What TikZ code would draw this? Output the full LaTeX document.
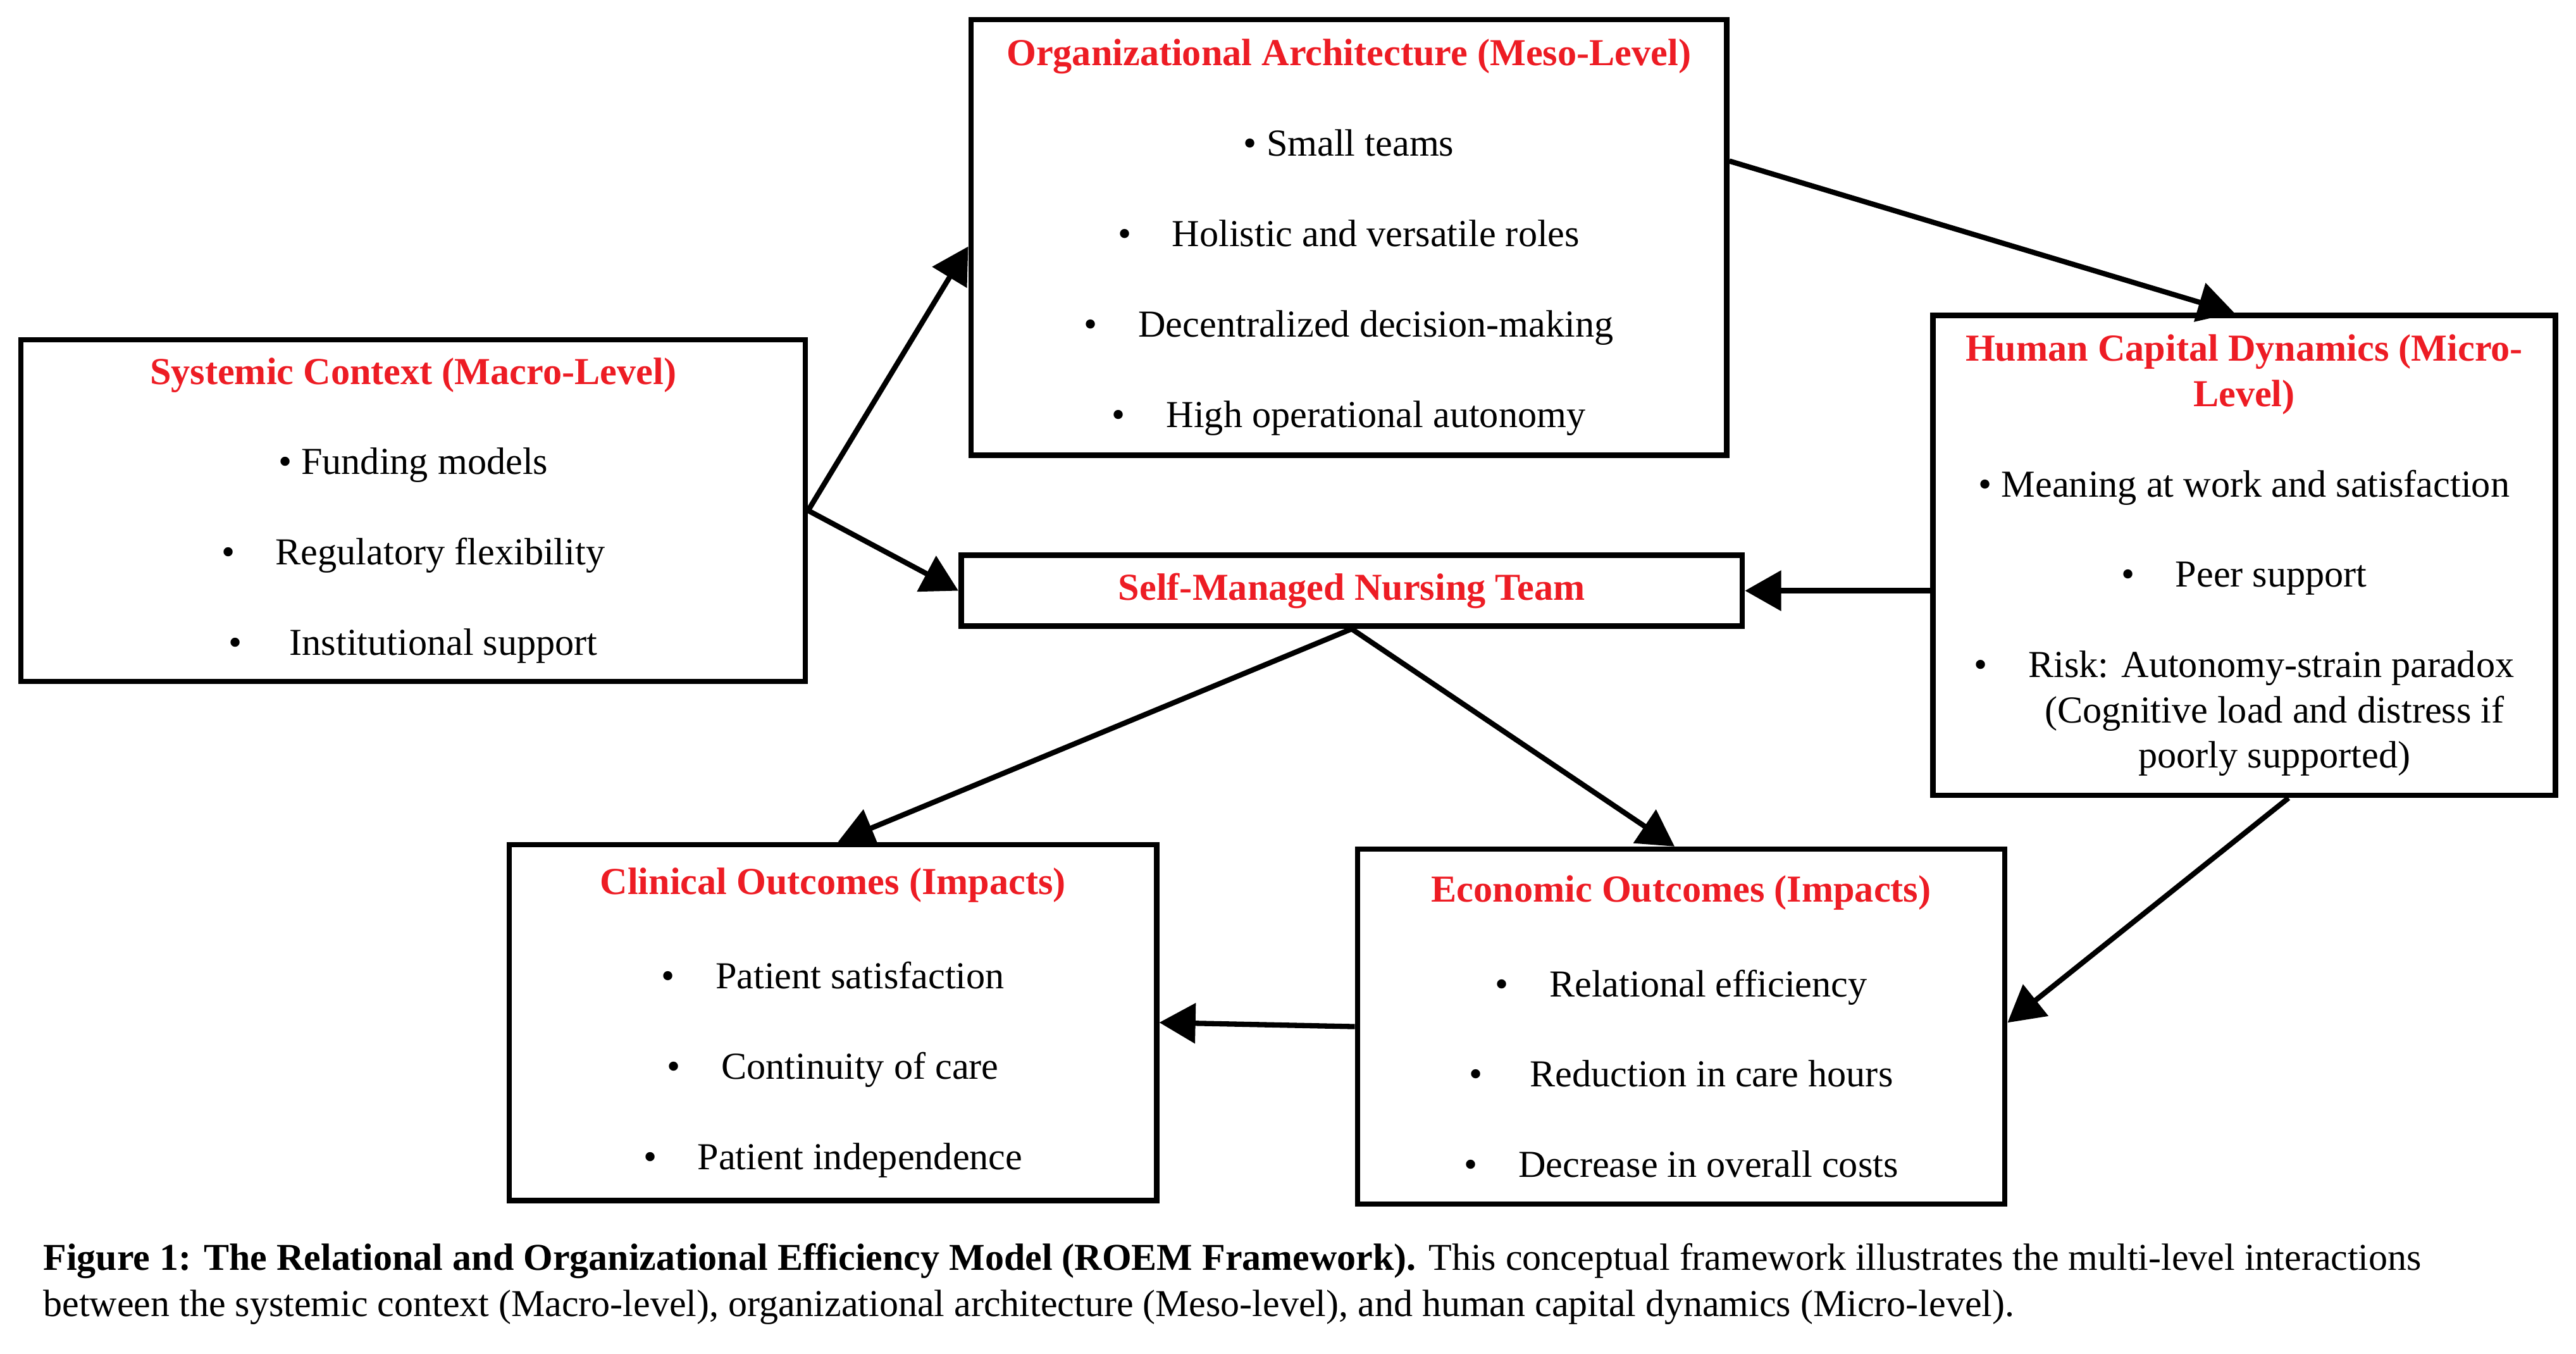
\documentclass[tikz,border=0pt]{standalone}
\usepackage{fontspec}
\setmainfont{Liberation Serif}
\usetikzlibrary{arrows.meta}
\definecolor{tred}{RGB}{237,28,36}
\newcommand{\bul}[2][16.5pt]{\makebox[#1][l]{\textbullet}#2}
\newcommand{\bulsp}[1]{\textbullet\ #1}
\newcommand{\ttl}[1]{\textcolor{tred}{\bfseries #1}}
\begin{document}
\begin{tikzpicture}[x=0.5pt,y=-0.5pt,
  box/.style={draw, line width=1.65pt, align=center, inner sep=0pt,
    font=\fontsize{11.6pt}{13.75pt}\selectfont},
  capline/.style={anchor=base west, inner sep=0pt, font=\fontsize{11.55pt}{13.75pt}\selectfont},
  arr/.style={line width=1.6pt, -{Triangle[length=11pt,width=12pt]}}]
\path[use as bounding box] (0,0) rectangle (1568,823.7);

\node[box, minimum width=230pt, minimum height=132.5pt] (org) at (821,144.5)
  {\ttl{Organizational Architecture (Meso-Level)}\\[13.75pt]
   \bulsp{Small teams}\\[13.75pt]
   \bul{Holistic and versatile roles}\\[13.75pt]
   \bul{Decentralized decision-making}\\[13.75pt]
   \bul{High operational autonomy}};

\node[box, minimum width=238.75pt, minimum height=104pt] (sys) at (251.5,310.7)
  {\ttl{Systemic Context (Macro-Level)}\\[13.75pt]
   \bulsp{Funding models}\\[13.75pt]
   \bul{Regulatory flexibility}\\[13.75pt]
   \bul[18.5pt]{Institutional support}};

\node[box, minimum width=189.5pt, minimum height=146pt] (hum) at (1366,338)
  {\ttl{Human Capital Dynamics (Micro-}\\
   \ttl{Level)}\\[13.75pt]
   \bulsp{Meaning at work and satisfaction}\\[13.75pt]
   \bul{Peer support}\\[13.75pt]
   \bul{Risk: Autonomy-strain paradox}\\
   \hspace*{18.5pt}(Cognitive load and distress if\\
   \hspace*{18.5pt}poorly supported)};

\node[box, minimum width=237.75pt, minimum height=21.6pt] (team) at (822.75,359.5)
  {\ttl{Self-Managed Nursing Team}};

\node[box, minimum width=197pt, minimum height=108.25pt] (clin) at (507,622.3)
  {\ttl{Clinical Outcomes (Impacts)}\\[15pt]
   \bul{Patient satisfaction}\\[13.75pt]
   \bul{Continuity of care}\\[13.75pt]
   \bul{Patient independence}};

\node[box, minimum width=197pt, minimum height=108pt] (eco) at (1023.3,624.8)
  {\ttl{Economic Outcomes (Impacts)}\\[15pt]
   \bul{Relational efficiency}\\[13.75pt]
   \bul[18.5pt]{Reduction in care hours}\\[13.75pt]
   \bul{Decrease in overall costs}};

\draw[arr] (sys.east) -- ([yshift=-2.75pt]org.west);
\draw[arr] (sys.east) -- (team.west);
\draw[arr] ([yshift=23.25pt]org.east) -- ([xshift=-3pt]hum.north);
\draw[arr] (team.east -| hum.west) -- (team.east);
\draw[arr] (team.south) -- ([xshift=1.5pt]clin.north);
\draw[arr] (team.south) -- ([xshift=-2pt]eco.north);
\draw[arr] ([xshift=13.5pt]hum.south) -- ([yshift=1.2pt]eco.east);
\draw[arr] (eco.west) -- (clin.east);

\node[capline] (cap1) at (26,773) {\textbf{Figure 1: The Relational and Organizational Efficiency Model (ROEM Framework).} This conceptual framework illustrates the multi-level interactions};
\node[capline] (cap2) at (26,801) {between the systemic context (Macro-level), organizational architecture (Meso-level), and human capital dynamics (Micro-level).};
\end{tikzpicture}
\end{document}
